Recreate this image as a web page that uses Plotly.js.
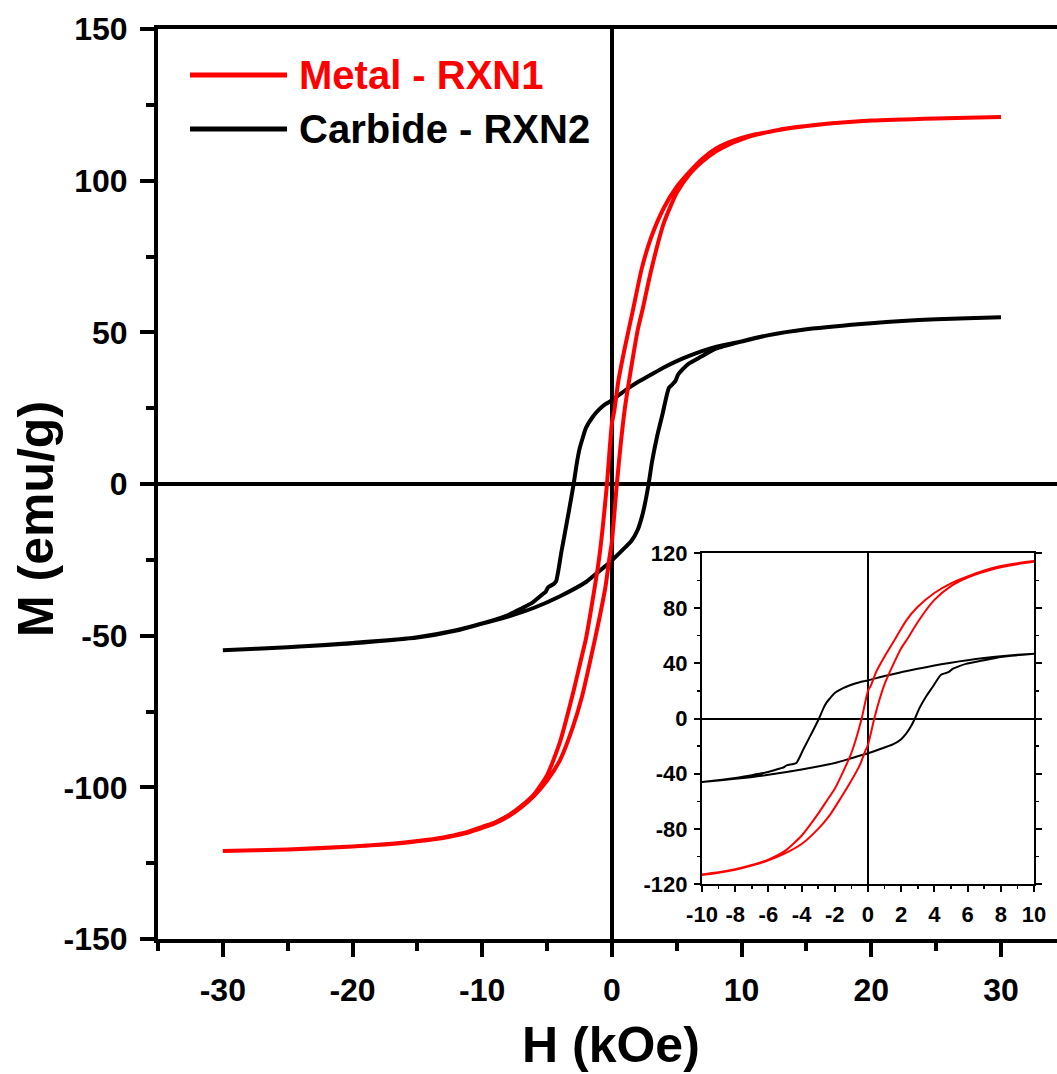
<!DOCTYPE html>
<html>
<head>
<meta charset="utf-8">
<script src="https://cdn.plot.ly/plotly-3.0.1.min.js"></script>
<style>
  html, body { margin: 0; padding: 0; background: #ffffff; }
  #chart { width: 1057px; height: 1074px; }
</style>
</head>
<body>
<div id="chart"></div>
<script>
// ---------------- DATA (H in kOe, M in emu/g) ----------------
// Metal - RXN1 : descending field branch (+30 -> -30)
const metalDescH = [30, 25, 20, 17, 15, 13, 12, 11, 10, 9, 8, 7, 6, 5, 4, 3, 2.3, 1.63, 1.0, 0.5, 0.18, 0, -0.38, -0.7, -1.0, -1.63, -2.0, -2.39, -3.0, -4.0, -5, -6, -7, -8, -9, -10, -11, -12, -13, -15, -17, -20, -25, -30];
const metalDescM = [121, 120.5, 119.8, 118.9, 118, 116.8, 116, 115.2, 114.1, 112.6, 110.5, 107.3, 103, 98, 91, 81, 71, 57.5, 45, 34, 24, 20, 0, -14, -25, -42, -51, -58, -69, -85, -96, -102.3, -106.2, -109.3, -111.5, -113, -114.5, -115.6, -116.5, -117.7, -118.6, -119.5, -120.5, -121];
// Metal - RXN1 : ascending field branch (-30 -> +30)
const metalAscH = [-30, -25, -20, -17, -15, -13, -12, -11, -10, -9, -8, -7, -6, -5, -4, -3, -2.3, -1.63, -1.0, -0.5, -0.18, 0, 0.38, 0.7, 1.0, 1.63, 2.0, 2.39, 3.0, 4.0, 5, 6, 7, 8, 9, 10, 11, 12, 13, 15, 17, 20, 25, 30];
const metalAscM = [-121, -120.5, -119.5, -118.7, -117.8, -116.7, -115.8, -114.8, -113.4, -111.8, -109.6, -106.6, -102.8, -97.8, -91, -80, -70, -57.5, -45, -34, -24, -19, 0, 14, 25, 42, 51, 58, 70, 86, 96, 102.2, 106.4, 109.6, 111.9, 113.6, 115, 116, 116.9, 118, 118.9, 119.8, 120.5, 121];

// Carbide - RXN2 : descending field branch (+30 -> -30)
const carbideDescH = [30, 25, 20, 15, 12, 10, 8, 7, 6, 5, 4, 3, 2, 1, 0, -0.5, -1.0, -1.5, -2.0, -2.3, -2.5, -2.7, -2.95, -3.3, -3.6, -3.9, -4.3, -4.5, -4.9, -5.1, -5.3, -6.1, -7.1, -8, -10, -12, -15, -20, -25, -30];
const carbideDescM = [55, 54.3, 53, 51, 49, 47, 45.2, 43.9, 42.3, 40.5, 38.4, 36, 33.6, 30.8, 27.6, 26.3, 24.5, 22, 18.5, 14.5, 11.5, 7, 0, -8.5, -15.5, -22.5, -32, -33, -34, -35.5, -36.2, -39, -41.3, -43.2, -46, -48.2, -50.5, -52.5, -53.8, -54.8];
// Carbide - RXN2 : ascending field branch (-30 -> +30)
const carbideAscH = [-30, -25, -20, -15, -12, -10, -8, -6, -4, -2, -1, 0, 1, 1.5, 2, 2.3, 2.5, 2.83, 3.1, 3.5, 3.9, 4.4, 4.7, 4.9, 5.1, 5.5, 5.9, 6.9, 8, 10, 12, 15, 20, 25, 30];
const carbideAscM = [-54.8, -53.8, -52.4, -50.6, -48.3, -46, -43.7, -40.8, -37, -32.3, -28.8, -25.2, -21, -18.8, -15, -11, -7.5, 0, 7.5, 16, 23, 31.7, 33, 34, 36, 38, 39.6, 42, 44.6, 47, 49, 51, 53, 54.3, 55];

// Tick values / labels
const mainXTicks = [-30, -20, -10, 0, 10, 20, 30];
const mainYTicks = [-150, -100, -50, 0, 50, 100, 150];
const insetXTicks = [-10, -8, -6, -4, -2, 0, 2, 4, 6, 8, 10];
const insetYTicks = [-120, -80, -40, 0, 40, 80, 120];

const seriesNames = ['Metal - RXN1', 'Carbide - RXN2'];
const seriesColors = ['#ff0000', '#000000'];

// ---------------- BUILD ----------------
const metalH = metalDescH.concat(metalAscH.slice(1));
const metalM = metalDescM.concat(metalAscM.slice(1));
const carbideH = carbideDescH.concat(carbideAscH.slice(1));
const carbideM = carbideDescM.concat(carbideAscM.slice(1));

const FONT = 'Liberation Sans, Arial, sans-serif';

function trace(x, y, color, name, xa, ya, w) {
  return {
    x: x, y: y, type: 'scatter', mode: 'lines', name: name,
    xaxis: xa, yaxis: ya, showlegend: false, hoverinfo: 'skip',
    line: { color: color, width: w, shape: 'spline', smoothing: 0.6 }
  };
}

const data = [
  trace(carbideH, carbideM, seriesColors[1], seriesNames[1], 'x', 'y', 4),
  trace(metalH, metalM, seriesColors[0], seriesNames[0], 'x', 'y', 4),
  trace(carbideH, carbideM, seriesColors[1], seriesNames[1], 'x2', 'y2', 2),
  trace(metalH, metalM, seriesColors[0], seriesNames[0], 'x2', 'y2', 2)
];

const mainTickFont = { family: FONT, size: 32, color: '#000', weight: 'bold' };
const insetTickFont = { family: FONT, size: 22, color: '#000', weight: 'bold' };

const layout = {
  width: 1057, height: 1074,
  margin: { l: 158, r: 0, t: 29, b: 135 },
  paper_bgcolor: '#ffffff', plot_bgcolor: '#ffffff',
  showlegend: false,
  xaxis: {
    domain: [0, 1], range: [-35, 34.32], anchor: 'y',
    showgrid: false, zeroline: true, zerolinecolor: '#000', zerolinewidth: 4,
    showline: true, linecolor: '#000', linewidth: 4, mirror: true,
    ticks: 'outside', ticklen: 14, tickwidth: 4, tickcolor: '#000',
    tickmode: 'array', tickvals: mainXTicks, ticktext: mainXTicks.map(String),
    ticklabelstandoff: 6,
    minor: { dtick: 5, tick0: 0, ticks: 'outside', ticklen: 8, tickwidth: 4, tickcolor: '#000', showgrid: false },
    tickfont: mainTickFont
  },
  yaxis: {
    domain: [0, 1], range: [-150, 150], anchor: 'x',
    showgrid: false, zeroline: true, zerolinecolor: '#000', zerolinewidth: 3.5,
    showline: true, linecolor: '#000', linewidth: 4, mirror: false,
    ticks: 'outside', ticklen: 14, tickwidth: 4, tickcolor: '#000',
    tickmode: 'array', tickvals: mainYTicks, ticktext: mainYTicks.map(String),
    ticklabelstandoff: 6,
    minor: { dtick: 25, tick0: 0, ticks: 'outside', ticklen: 8, tickwidth: 4, tickcolor: '#000', showgrid: false },
    tickfont: mainTickFont
  },
  xaxis2: {
    domain: [0.6051, 0.9744], range: [-10, 10], anchor: 'y2',
    showgrid: false, zeroline: true, zerolinecolor: '#000', zerolinewidth: 2,
    showline: true, linecolor: '#000', linewidth: 2, mirror: true,
    ticks: 'outside', ticklen: 6, tickwidth: 2, tickcolor: '#000',
    tickmode: 'array', tickvals: insetXTicks, ticktext: insetXTicks.map(String),
    ticklabelstandoff: 4,
    minor: { dtick: 1, tick0: 0, ticks: 'outside', ticklen: 3, tickwidth: 1.5, tickcolor: '#000', showgrid: false },
    tickfont: insetTickFont
  },
  yaxis2: {
    domain: [0.0604, 0.4242], range: [-120, 120], anchor: 'x2',
    showgrid: false, zeroline: true, zerolinecolor: '#000', zerolinewidth: 2,
    showline: true, linecolor: '#000', linewidth: 2, mirror: 'allticks',
    ticks: 'outside', ticklen: 6, tickwidth: 2, tickcolor: '#000',
    tickmode: 'array', tickvals: insetYTicks, ticktext: insetYTicks.map(String),
    ticklabelstandoff: 2,
    minor: { dtick: 20, tick0: 0, ticks: 'outside', ticklen: 3, tickwidth: 1.5, tickcolor: '#000', showgrid: false },
    tickfont: insetTickFont
  },
  shapes: [
    { type: 'line', xref: 'paper', yref: 'paper', x0: 0.0356, x1: 0.1435, y0: 0.9495, y1: 0.9495,
      line: { color: seriesColors[0], width: 5 } },
    { type: 'line', xref: 'paper', yref: 'paper', x0: 0.0356, x1: 0.1435, y0: 0.8901, y1: 0.8901,
      line: { color: seriesColors[1], width: 5 } }
  ],
  annotations: [
    { xref: 'paper', yref: 'paper', x: 0.1546, y: 0.9495, xanchor: 'left', yanchor: 'middle',
      text: seriesNames[0], showarrow: false,
      font: { family: FONT, size: 40, color: seriesColors[0], weight: 'bold' } },
    { xref: 'paper', yref: 'paper', x: 0.1546, y: 0.8901, xanchor: 'left', yanchor: 'middle',
      text: seriesNames[1], showarrow: false,
      font: { family: FONT, size: 40, color: seriesColors[1], weight: 'bold' } },
    { xref: 'paper', yref: 'paper', x: 0.5039, y: -0.1165, xanchor: 'center', yanchor: 'middle',
      text: 'H (kOe)', showarrow: false,
      font: { family: FONT, size: 50, color: '#000', weight: 'bold' } },
    { xref: 'paper', yref: 'paper', x: -0.1357, y: 0.4615, xanchor: 'center', yanchor: 'middle',
      text: 'M (emu/g)', showarrow: false, textangle: -90,
      font: { family: FONT, size: 50, color: '#000', weight: 'bold' } }
  ]
};

Plotly.newPlot('chart', data, layout, { staticPlot: true, displayModeBar: false });
</script>
</body>
</html>
